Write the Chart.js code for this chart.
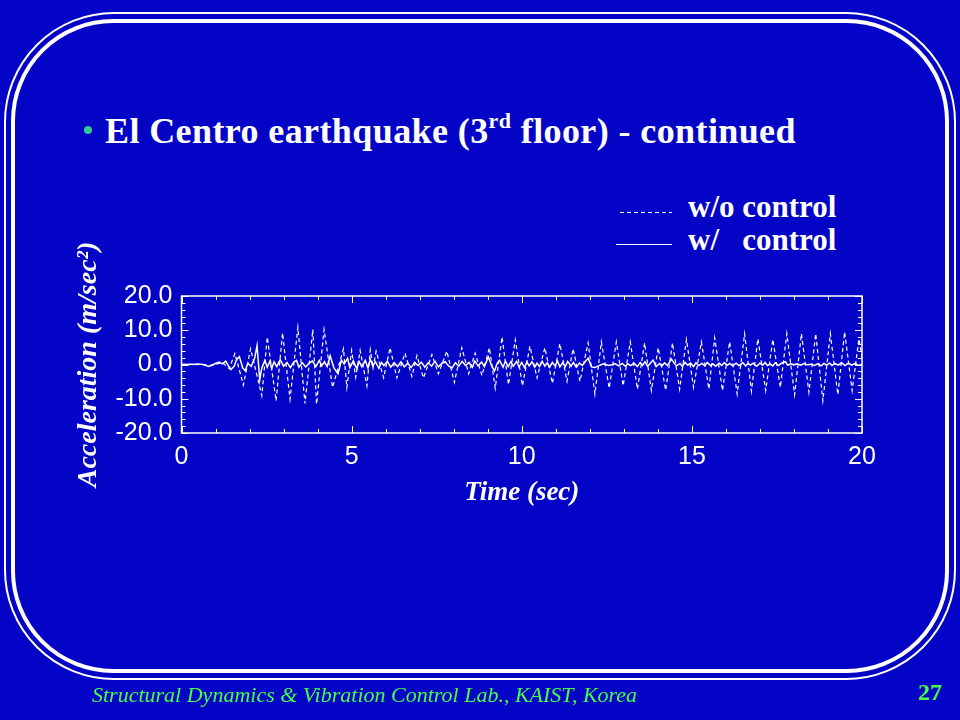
<!DOCTYPE html>
<html>
<head>
<meta charset="utf-8">
<script src="https://cdn.jsdelivr.net/npm/chart.js@4.4.0/dist/chart.umd.min.js"></script>
<style>
  html, body { margin: 0; padding: 0; }
  body {
    width: 960px; height: 720px; position: relative; overflow: hidden;
    background: #0404c6;
    font-family: "Liberation Serif", "Times New Roman", serif;
    color: #fff;
  }
  .frame { position: absolute; box-sizing: border-box; border-style: solid; border-color: #fff; }
  #outer { left: 4px; top: 12px; width: 952px; height: 668px; border-width: 2px; border-radius: 110px; }
  #inner { left: 11px; top: 19px; width: 938px; height: 654px; border-width: 4px; border-radius: 102px; }
  #chart { position: absolute; left: 0; top: 0; }
  .txt { position: absolute; white-space: pre; line-height: 1; }
  #bullet { position: absolute; left: 84px; top: 126px; width: 8px; height: 8px; border-radius: 50%; background: #2ec98e; }
  #title { left: 105px; top: 113px; font-size: 36px; font-weight: bold; letter-spacing: 0.4px; }
  #title sup { font-size: 22px; vertical-align: 0; position: relative; top: -15px; }
  .leg { font-size: 31px; font-weight: bold; }
  .dash { position: absolute; height: 1px;
    background: repeating-linear-gradient(90deg, #fff 0 4px, transparent 4px 7px); }
  .solid { position: absolute; height: 1px; background: #fff; }
  #footer { left: 92px; top: 684px; font-size: 22px; font-style: italic; color: #44ff44; }
  #page { left: 918px; top: 680px; font-size: 24px; font-weight: bold; color: #44ff44; }
</style>
</head>
<body>
<div id="outer" class="frame"></div>
<div id="inner" class="frame"></div>
<div id="bullet"></div>
<div id="title" class="txt">El Centro earthquake (3<sup>rd</sup> floor) - continued</div>
<div class="dash" style="left:620px; top:212px; width:52px;"></div>
<div class="txt leg" style="left:688px; top:191px;">w/o control</div>
<div class="solid" style="left:616px; top:244px; width:56px;"></div>
<div class="txt leg" style="left:688px; top:224px;">w/   control</div>
<canvas id="chart" width="960" height="720"></canvas>
<div id="footer" class="txt">Structural Dynamics &amp; Vibration Control Lab., KAIST, Korea</div>
<div id="page" class="txt">27</div>
<script>
// w/o control (dashed): peaks and troughs
const woTime = [
  0, 0.5, 0.9, 1.2, 1.4, 1.57, 1.82, 2.03, 2.36, 2.52,
  2.78, 2.97, 3.19, 3.42, 3.63, 3.86, 3.97, 4.19, 4.44, 4.76,
  4.86, 5.0, 5.12, 5.25, 5.45, 5.55, 5.63, 5.72, 5.94, 6.13,
  6.33, 6.57, 6.77, 6.92, 7.11, 7.36, 7.55, 7.8, 8.02, 8.24,
  8.44, 8.63, 8.83, 9.05, 9.22, 9.42, 9.61, 9.81, 10.02, 10.24,
  10.45, 10.68, 10.9, 11.12, 11.33, 11.51, 11.71, 11.95, 12.15, 12.34,
  12.57, 12.78, 12.98, 13.19, 13.4, 13.61, 13.81, 14.01, 14.23, 14.43,
  14.64, 14.84, 15.05, 15.28, 15.5, 15.67, 15.9, 16.11, 16.33, 16.55,
  16.75, 16.94, 17.17, 17.38, 17.6, 17.79, 18.02, 18.22, 18.44, 18.64,
  18.85, 19.07, 19.29, 19.49, 19.71, 19.91, 20.0
];
const woAcc = [
  0, 0.1, -0.3, 0.6, -1.2, 3.2, -6.0, 4.6, -9.1, 8.0,
  -10.6, 9.2, -10.1, 10.8, -11.4, 10.2, -11.6, 10.2, -6.7, 4.6,
  -6.7, 4.1, -3.7, 4.1, -6.2, 4.3, -1.0, 3.9, -3.9, 4.9,
  -3.9, 3.3, -3.5, 2.6, -3.9, 2.9, -2.7, 3.9, -5.2, 4.9,
  -2.7, 3.3, -3.2, 4.9, -6.9, 8.0, -5.9, 7.2, -6.2, 5.3,
  -3.9, 4.9, -5.5, 6.1, -4.9, 4.6, -4.9, 6.3, -8.6, 6.6,
  -6.9, 6.6, -6.2, 6.6, -7.2, 6.3, -7.6, 4.9, -7.5, 6.3,
  -7.2, 7.3, -6.7, 6.6, -7.2, 7.8, -7.6, 6.6, -8.6, 9.0,
  -7.8, 7.5, -7.6, 7.3, -6.7, 9.0, -8.8, 9.0, -8.1, 9.0,
  -10.6, 9.0, -8.8, 9.5, -7.6, 7.5, 2.0
];

// w/ control (solid)
const wTime = [
  0, 0.6, 0.8, 1.0, 1.1, 1.2, 1.3, 1.38, 1.45, 1.55,
  1.62, 1.7, 1.8, 1.87, 1.95, 2.05, 2.15, 2.22, 2.3, 2.36,
  2.45, 2.52, 2.6, 2.65, 2.72, 2.8, 2.9, 3.0, 3.1, 3.2,
  3.3, 3.38, 3.45, 3.55, 3.65, 3.75, 3.85, 3.95, 4.05, 4.12,
  4.2, 4.28, 4.37, 4.48, 4.6, 4.7, 4.78, 4.88, 4.95, 5.05,
  5.15, 5.22, 5.3, 5.4, 5.48, 5.55, 5.62, 5.7, 5.8, 5.88,
  5.95, 6.05, 6.15, 6.25, 6.35, 6.45, 6.55, 6.65, 6.75, 6.85,
  6.95, 7.05, 7.15, 7.25, 7.35, 7.45, 7.55, 7.65, 7.75, 7.85,
  7.95, 8.05, 8.15, 8.25, 8.35, 8.45, 8.55, 8.62, 8.72, 8.82,
  8.9, 9.02, 9.12, 9.2, 9.28, 9.35, 9.45, 9.52, 9.6, 9.68,
  9.75, 9.85, 9.92, 10.0, 10.08, 10.15, 10.22, 10.3, 10.38, 10.45,
  10.52, 10.6, 10.68, 10.75, 10.82, 10.9, 10.98, 11.05, 11.12, 11.2,
  11.28, 11.35, 11.45, 11.52, 11.6, 11.7, 11.78, 11.88, 11.95, 12.05,
  12.15, 12.3, 12.4, 12.55, 12.65, 12.75, 12.85, 12.95, 13.05, 13.12,
  13.2, 13.3, 13.4, 13.48, 13.55, 13.62, 13.7, 13.78, 13.86, 13.95,
  14.05, 14.12, 14.2, 14.28, 14.4, 14.48, 14.55, 14.65, 14.72, 14.8,
  14.88, 14.96, 15.05, 15.12, 15.2, 15.3, 15.38, 15.45, 15.55, 15.62,
  15.7, 15.8, 15.88, 15.95, 16.05, 16.12, 16.2, 16.3, 16.38, 16.5,
  16.58, 16.65, 16.72, 16.8, 16.9, 17.0, 17.08, 17.15, 17.22, 17.3,
  17.38, 17.45, 17.55, 17.62, 17.75, 17.82, 17.9, 18.0, 18.1, 18.2,
  18.3, 18.4, 18.5, 18.6, 18.7, 18.8, 18.88, 18.95, 19.05, 19.12,
  19.2, 19.3, 19.4, 19.5, 19.6, 19.7, 19.8, 19.9, 20.0
];
const wAcc = [
  0, 0.1, -0.6, 0.3, 0.7, 0.2, 1.0, -0.4, -1.5, -0.5,
  1.5, 2.3, -1.0, -1.8, 0.3, -0.5, 1.8, 5.5, -4.5, -1.0,
  1.2, -0.8, 1.0, -1.2, 0.8, -0.6, 1.4, -0.5, 0.6, -0.9,
  0.7, 1.2, -0.8, 0.5, -0.7, 0.4, 1.0, -0.6, 1.2, -0.4,
  0.8, -0.6, 2.5, -1.0, -2.7, 1.3, 0.2, 1.8, -0.9, 1.1,
  -1.2, 0.9, -0.6, 1.2, -1.0, 1.5, -0.4, 0.8, -1.1, 0.6,
  -0.3, 0.9, -0.8, 0.5, -0.6, 0.8, -0.7, 0.4, -0.9, 0.6,
  -0.3, 0.7, -0.8, 0.5, -0.5, 0.9, -0.7, 0.3, 0.8, -0.4,
  -1.0, 0.5, -0.5, 0.9, -0.3, 0.6, -0.8, 1.0, -0.4, 0.7,
  -0.6, 2.2, -0.5, -1.9, 0.4, 1.2, -0.8, 1.0, -0.6, 0.8,
  -0.5, 0.9, -0.7, 0.6, -0.9, 0.7, -0.4, 0.8, -0.8, 0.4,
  -0.6, 0.9, -0.5, 0.5, -0.8, 0.6, -0.4, 1.0, -0.7, 0.5,
  -0.6, 0.9, -0.5, 0.6, -0.8, 0.4, -0.3, 1.0, 1.8, -0.7,
  -0.9, -0.2, 0.2, -0.3, -0.1, 0.2, -0.4, 0.3, -0.5, 0.2,
  -0.3, 0.4, -0.6, 0.6, -0.2, 0.8, -0.5, 0.4, 1.3, -0.6,
  0.3, -0.4, 0.5, -0.3, 1.6, 0.4, -0.4, 0.3, -0.5, 0.6,
  -0.2, 0.4, -0.6, 0.5, -0.3, 0.3, -0.4, 0.6, -0.3, 0.2,
  -0.5, 0.4, -0.3, 0.5, -0.2, 0.3, -0.4, 0.4, -0.3, 0.5,
  -0.4, 0.3, -0.2, 0.4, -0.5, 0.4, -0.2, 0.6, -0.3, 0.2,
  -0.4, 0.5, -0.3, 0.3, 0.8, -0.2, 0.2, -0.1, 0.2, -0.2,
  0.3, -0.1, 0.1, -0.3, 0.2, -0.4, 0.3, -0.2, 0.4, -0.3,
  0.3, -0.2, 0.5, -0.3, 0.4, -0.2, 0.3, -0.3, 0.1
];

const xTicks = [0, 5, 10, 15, 20];
const yTicks = [-20, -10, 0, 10, 20];

const toPoints = (ts, vs) => ts.map((t, i) => ({ x: t, y: vs[i] }));

// frame around the plot with inward major/minor ticks on all four sides
const framePlugin = {
  id: 'frame',
  afterDraw(chart) {
    const { ctx, chartArea: a, scales: { x, y } } = chart;
    ctx.save();
    ctx.strokeStyle = '#fff';
    ctx.lineWidth = 1.5;
    ctx.strokeRect(a.left, a.top, a.right - a.left, a.bottom - a.top);
    ctx.lineWidth = 1;
    ctx.beginPath();
    for (let t = x.min; t <= x.max; t += 1) {
      const px = Math.round(x.getPixelForValue(t)) + 0.5;
      const len = t % 5 === 0 ? 7 : 4;
      ctx.moveTo(px, a.bottom); ctx.lineTo(px, a.bottom - len);
      ctx.moveTo(px, a.top); ctx.lineTo(px, a.top + len);
    }
    for (let v = y.min; v <= y.max; v += 2) {
      const py = Math.round(y.getPixelForValue(v)) + 0.5;
      const len = v % 10 === 0 ? 7 : 4;
      ctx.moveTo(a.left, py); ctx.lineTo(a.left + len, py);
      ctx.moveTo(a.right, py); ctx.lineTo(a.right - len, py);
    }
    ctx.stroke();
    ctx.restore();
  }
};

new Chart(document.getElementById('chart'), {
  type: 'line',
  data: {
    datasets: [
      {
        label: 'w/o control',
        data: toPoints(woTime, woAcc),
        borderColor: '#fff',
        borderWidth: 1.2,
        borderDash: [4, 3],
        pointRadius: 0,
        tension: 0
      },
      {
        label: 'w/ control',
        data: toPoints(wTime, wAcc),
        borderColor: '#fff',
        borderWidth: 1.5,
        pointRadius: 0,
        tension: 0
      }
    ]
  },
  options: {
    responsive: false,
    animation: false,
    events: [],
    layout: { padding: { left: 0, top: 296, right: 98, bottom: 207 } },
    plugins: { legend: { display: false }, tooltip: { enabled: false } },
    scales: {
      x: {
        type: 'linear',
        min: 0, max: 20,
        afterFit: (s) => { s.height = 80; },
        afterBuildTicks: (s) => { s.ticks = xTicks.map(v => ({ value: v })); },
        grid: { display: false, drawTicks: false },
        border: { display: false },
        ticks: {
          color: '#fff', padding: 9,
          font: { family: '"Liberation Sans", Arial, sans-serif', size: 25 }
        },
        title: {
          display: true, text: 'Time (sec)', color: '#fff',
          padding: { top: 0, bottom: 4 },
          font: { family: '"Liberation Serif", "Times New Roman", serif', size: 27, style: 'italic', weight: 'bold' }
        }
      },
      y: {
        min: -20, max: 20,
        afterFit: (s) => { s.width = 181.5; },
        afterBuildTicks: (s) => { s.ticks = yTicks.map(v => ({ value: v })); },
        grid: { display: false, drawTicks: false },
        border: { display: false },
        ticks: {
          color: '#fff', padding: 9,
          font: { family: '"Liberation Sans", Arial, sans-serif', size: 25 },
          callback: (v) => v.toFixed(1)
        },
        title: {
          display: true, text: 'Acceleration (m/sec\u00b2)', color: '#fff',
          padding: { top: 72, bottom: 0 },
          font: { family: '"Liberation Serif", "Times New Roman", serif', size: 28, style: 'italic', weight: 'bold' }
        }
      }
    }
  },
  plugins: [framePlugin]
});
</script>
</body>
</html>
